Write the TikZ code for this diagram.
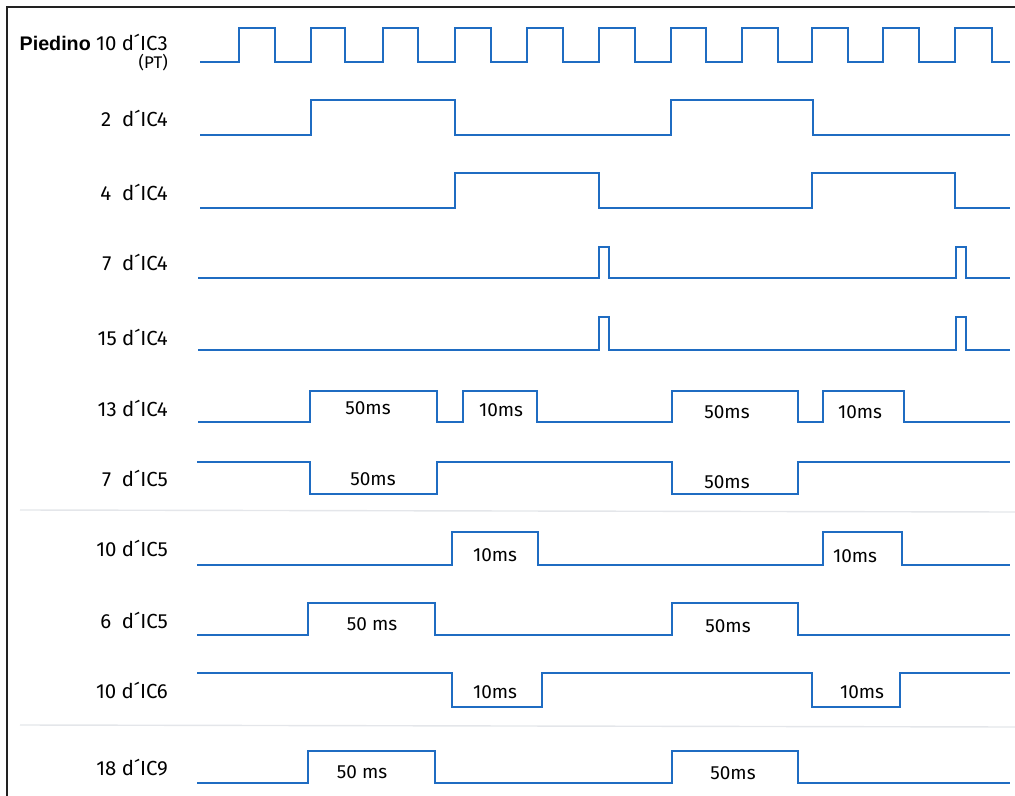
\documentclass[tikz,border=0pt]{standalone}
\usepackage{fontspec}
\setmainfont{Fira Sans}
\newfontfamily\headfont{Liberation Sans}
\definecolor{sigline}{HTML}{1F6CC2}
\definecolor{frameedge}{HTML}{222222}
\definecolor{foldline}{HTML}{E4E6EA}

\begin{document}
\begin{tikzpicture}[
  x=0.025cm, y=-0.025cm,
  sig/.style={draw=sigline, line width=1.4pt, line join=miter},
  pin/.style={anchor=east, inner sep=0pt, font=\fontsize{14.5}{16}\selectfont},
  dur/.style={inner sep=0pt, font=\fontsize{13.5}{15}\selectfont},
  frame/.style={draw=frameedge, line width=0.9pt},
]
\useasboundingbox (0,0) rectangle (1015,796);
% ---- page frame and the two faint fold lines
\draw[frame] (1015,7) -- (7,7) -- (7,796);
\draw[foldline, line width=1pt] (20,510) -- (1015,512);
\draw[foldline, line width=1pt] (20,725) -- (1015,727);
% ---- row labels (right aligned on one edge)
\node[pin] (pin_ic3) at (168,42) {{\headfont\bfseries\fontsize{14}{16}\selectfont Piedino} 10 d´IC3};
\node[pin, font=\fontsize{12}{14}\selectfont] (pin_pt) at (168,63) {(PT)};
\node[pin] (pin2_ic4) at (168,118) {2\ \ d´IC4};
\node[pin] (pin4_ic4) at (168,192) {4\ \ d´IC4};
\node[pin] (pin7_ic4) at (168,262) {7\ \ d´IC4};
\node[pin] (pin15_ic4) at (168,337) {15\ d´IC4};
\node[pin] (pin13_ic4) at (168,408) {13\ d´IC4};
\node[pin] (pin7_ic5) at (168,478) {7\ \ d´IC5};
\node[pin] (pin10_ic5) at (168,548) {10\ d´IC5};
\node[pin] (pin6_ic5) at (168,620) {6\ \ d´IC5};
\node[pin] (pin10_ic6) at (168,690) {10\ d´IC6};
\node[pin] (pin18_ic9) at (168,768) {18\ d´IC9};
% ---- clock PT, pin 10 of IC3
\draw[sig] (200,62) -| (239,28) -| (275,62) -| (311,28) -| (345,62) -| (383,28)
  -| (418,62) -| (455,28) -| (491,62) -| (527,28) -| (563,62) -| (599,28)
  -| (635,62) -| (671,28) -| (706,62) -| (742,28) -| (778,62) -| (812,28)
  -| (848,62) -| (883,28) -| (919,62) -| (955,28) -| (992,62) -- (1010,62);
% ---- IC4 outputs
\draw[sig] (200,135) -| (311,100) -| (455,135) -| (671,100) -| (813,135) -- (1010,135);
\draw[sig] (200,208) -| (455,173) -| (599,208) -| (812,173) -| (955,208) -- (1010,208);
\draw[sig] (198,278) -| (599,247) -| (609,278) -| (956,247) -| (966,278) -- (1010,278);
\draw[sig] (198,350) -| (599,317) -| (609,350) -| (956,317) -| (966,350) -- (1010,350);
\draw[sig] (198,422) -| (310,391) -| (437,422) -| (463,391) -| (537,422)
  -| (672,391) -| (798,422) -| (823,391) -| (904,422) -- (1010,422);
\node[dur] (t13_a) at (368,408) {50ms};
\node[dur] (t13_b) at (501,410) {10ms};
\node[dur] (t13_c) at (727,412) {50ms};
\node[dur] (t13_d) at (860,412) {10ms};
% ---- IC5 outputs
\draw[sig] (197,462) -| (310,494) -| (437,462) -| (672,494) -| (798,462) -- (1010,462);
\node[dur] (t7_a) at (373,479) {50ms};
\node[dur] (t7_b) at (727,482) {50ms};
\draw[sig] (197,565) -| (452,532) -| (538,565) -| (823,532) -| (902,565) -- (1010,565);
\node[dur] (t10_a) at (495,555) {10ms};
\node[dur] (t10_b) at (855,556) {10ms};
\draw[sig] (197,635) -| (308,603) -| (435,635) -| (672,603) -| (798,635) -- (1010,635);
\node[dur] (t6_a) at (372,624) {50 ms};
\node[dur] (t6_b) at (728,626) {50ms};
% ---- IC6 and IC9
\draw[sig] (197,673) -| (452,707) -| (542,673) -| (812,707) -| (900,673) -- (1010,673);
\node[dur] (t16_a) at (495,692) {10ms};
\node[dur] (t16_b) at (862,692) {10ms};
\draw[sig] (197,783) -| (308,751) -| (435,783) -| (672,751) -| (798,783) -- (1010,783);
\node[dur] (t18_a) at (362,772) {50 ms};
\node[dur] (t18_b) at (733,773) {50ms};
\end{tikzpicture}
\end{document}
